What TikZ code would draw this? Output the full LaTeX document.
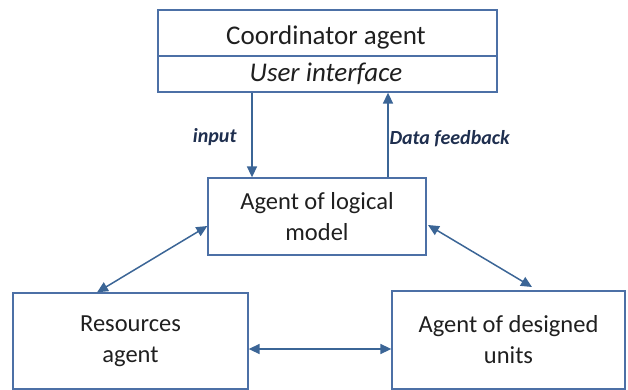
\documentclass[tikz,border=0pt]{standalone}
\usepackage{fontspec}
\setmainfont{Carlito}
\usetikzlibrary{arrows.meta}
\definecolor{boxline}{HTML}{4C70A6}
\definecolor{arrline}{HTML}{3B6596}
\definecolor{labtext}{HTML}{1F2F4F}
\begin{document}
\begin{tikzpicture}[x=1pt,y=-1pt,
  agentbox/.style={draw=boxline,line width=1.3pt,rectangle,inner sep=0pt},
  boxtext/.style={font=\fontsize{24.5}{31}\selectfont,text=black!88,align=center},
  toptext/.style={font=\fontsize{27}{31}\selectfont,text=black!88},
  flow/.style={draw=arrline,line width=1.5pt,-{Triangle[length=11pt,width=10pt]}},
  biflow/.style={draw=arrline,line width=1.5pt,{Triangle[length=11pt,width=10pt]}-{Triangle[length=11pt,width=10pt]}},
  flowlabel/.style={font=\fontsize{20}{22}\selectfont\bfseries\itshape,text=labtext}]
  \useasboundingbox (0,0) rectangle (628,390);

  % coordinator with its user interface part
  \node[agentbox,minimum width=339pt,minimum height=82pt] (coord) at (327.5,51) {};
  \draw[boxline,line width=1.3pt] (coord.west |- 0,56) -- (coord.east |- 0,56);
  \node[toptext] (coordname) at (326,37) {Coordinator agent};
  \node[toptext,font=\fontsize{27}{31}\selectfont\itshape] (ui) at (326,74) {User interface};

  % logical model agent
  \node[agentbox,minimum width=218pt,minimum height=77pt,boxtext] (logic) at (317,216.5) {Agent of logical\\model};

  % bottom agents
  \node[agentbox,minimum width=235pt,minimum height=96pt,boxtext] (res) at (130.5,341) {Resources\\agent};
  \node[agentbox,minimum width=233pt,minimum height=98pt,boxtext] (units) at (508.5,340) {Agent of designed\\units};

  % helper positions for the connectors
  \coordinate (inx) at (252,0);
  \coordinate (fbx) at (388,0);
  \coordinate (lres) at (97,0);
  \coordinate (llog) at (0,226);
  \coordinate (rlog) at (428,225);
  \coordinate (runits) at (532,287);
  \coordinate (hy) at (0,349);

  \draw[flow] (coord.south -| inx) -- (logic.north -| inx);
  \draw[flow] (logic.north -| fbx) -- (coord.south -| fbx);
  \draw[biflow] (res.north -| lres) -- (logic.west |- llog);
  \draw[biflow] (rlog) -- (runits);
  \draw[biflow] (res.east |- hy) -- (units.west |- hy);

  \node[flowlabel,anchor=east] (inlab) at (240,137) {input};
  \node[flowlabel,anchor=west] (fblab) at (386,139) {Data feedback};
\end{tikzpicture}
\end{document}
